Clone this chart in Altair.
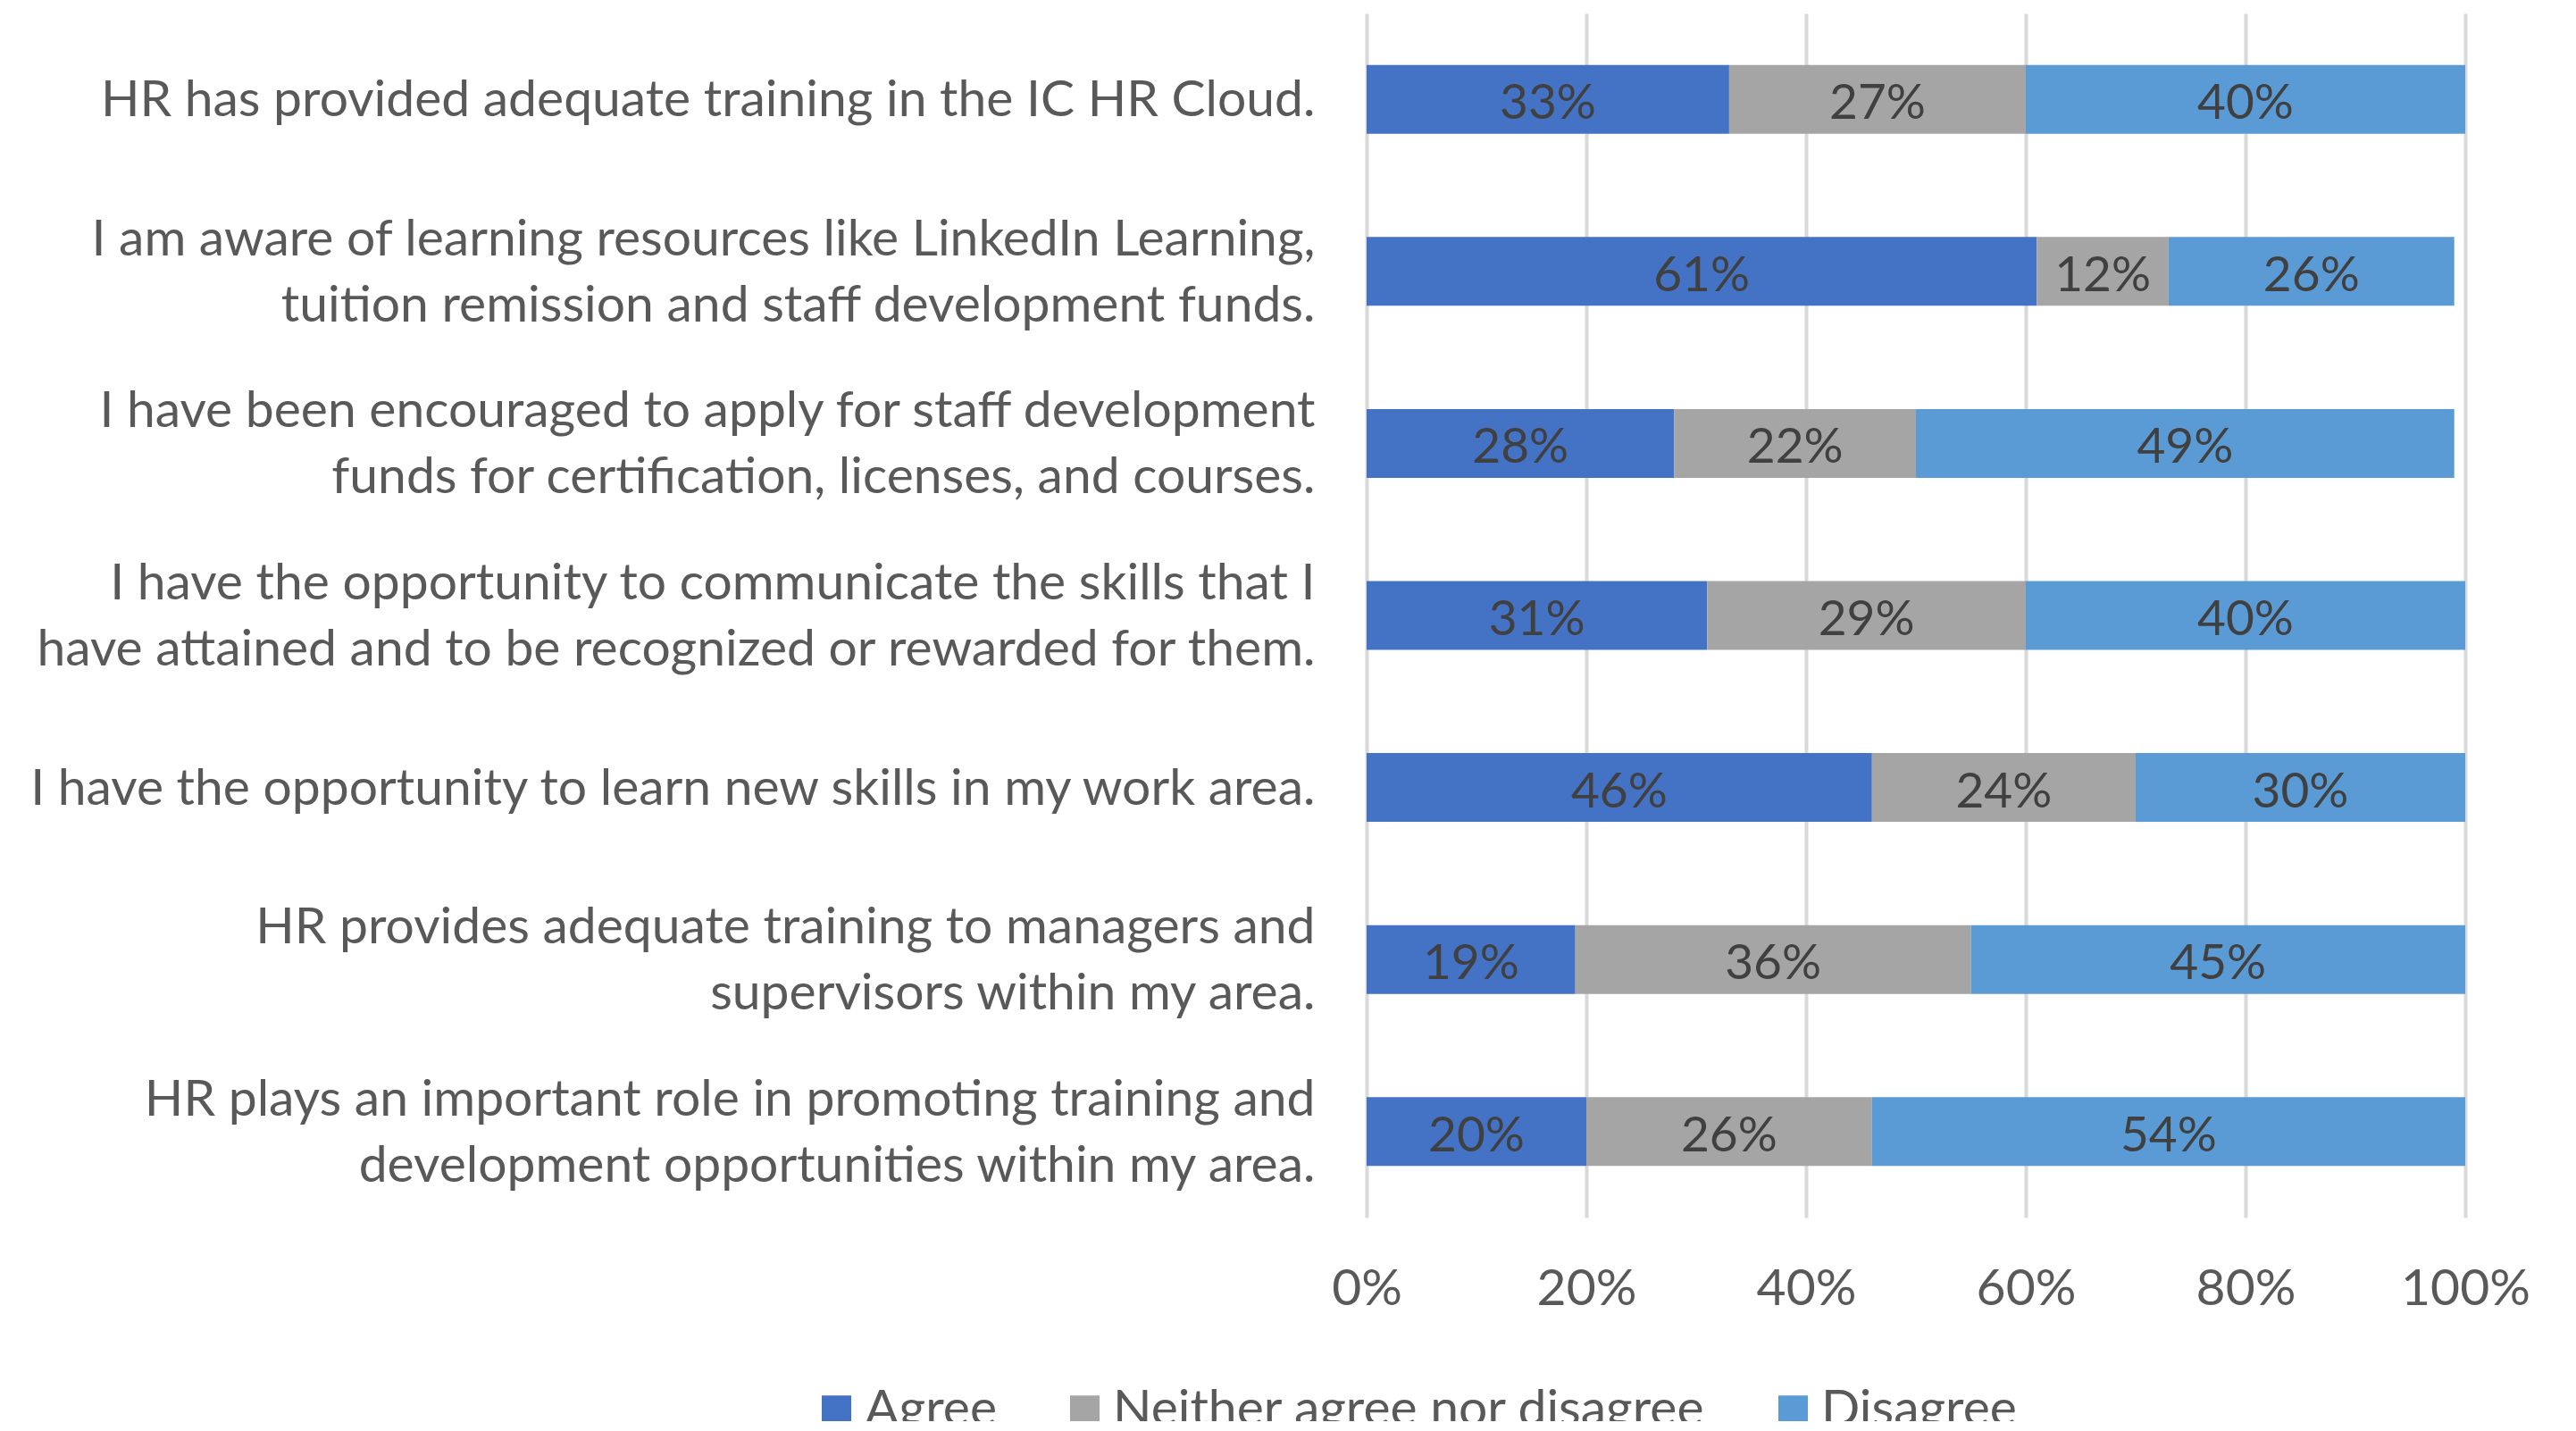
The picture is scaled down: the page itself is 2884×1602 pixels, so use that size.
import altair as alt
import pandas as pd

questions = [
    "HR has provided adequate training in the IC HR Cloud.",
    "I am aware of learning resources like LinkedIn Learning,|tuition remission and staff development funds.",
    "I have been encouraged to apply for staff development|funds for certification, licenses, and courses.",
    "I have the opportunity to communicate the skills that I|have attained and to be recognized or rewarded for them.",
    "I have the opportunity to learn new skills in my work area.",
    "HR provides adequate training to managers and|supervisors within my area.",
    "HR plays an important role in promoting training and|development opportunities within my area.",
]
series = ["Agree", "Neither agree nor disagree", "Disagree"]
agree = [33, 61, 28, 31, 46, 19, 20]
neither = [27, 12, 22, 29, 24, 36, 26]
disagree = [40, 26, 49, 40, 30, 45, 54]
colors = ["#4472C4", "#A5A5A5", "#5B9BD5"]
x_ticks = [0, 20, 40, 60, 80, 100]

rows = []
for i, q in enumerate(questions):
    for j, (s, vals) in enumerate(zip(series, [agree, neither, disagree])):
        rows.append({"question": q, "series": s, "order": j, "value": vals[i]})
df = pd.DataFrame(rows)

FONT = "Lato"
FS = 57

base = alt.Chart(df).transform_stack(
    stack="value", groupby=["question"], sort=[alt.SortField("order")], as_=["x0", "x1"]
).transform_calculate(
    xm="(datum.x0 + datum.x1) / 2",
    lbl="datum.value + '%'",
)

y_enc = alt.Y(
    "question:N",
    sort=questions,
    scale=alt.Scale(paddingInner=0.6, paddingOuter=0.3),
    axis=alt.Axis(
        title=None,
        labelExpr="split(datum.label, '|')",
        labelFont=FONT,
        labelFontSize=FS,
        labelColor="#595959",
        labelLineHeight=74,
        labelPadding=58,
        labelLimit=2000,
        labelOffset={"condition": {"test": "indexof(datum.value, '|') >= 0", "value": -35}, "value": 2},
        ticks=False,
        domain=False,
        grid=False,
    ),
)

bars = base.mark_bar().encode(
    x=alt.X(
        "x0:Q",
        scale=alt.Scale(domain=[0, 100], nice=False),
        axis=alt.Axis(
            title=None,
            values=x_ticks,
            labelExpr="datum.value + '%'",
            labelFont=FONT,
            labelFontSize=FS,
            labelColor="#595959",
            labelPadding=52,
            labelFlush=False,
            ticks=False,
            domain=False,
            grid=True,
            gridColor="#D9D9D9",
            gridWidth=4,
        ),
    ),
    x2="x1:Q",
    y=y_enc,
    color=alt.Color(
        "series:N",
        sort=series,
        scale=alt.Scale(domain=series, range=colors),
        legend=alt.Legend(
            title=None,
            orient="none",
            direction="horizontal",
            legendX=-622,
            legendY=1535,
            symbolType="square",
            symbolSize=1089,
            symbolStrokeWidth=0,
            labelFont=FONT,
            labelFontSize=FS,
            labelColor="#595959",
            labelOffset=3,
            labelLimit=2000,
            columnPadding=69,
            padding=0,
        ),
    ),
    order=alt.Order("order:Q"),
)

texts = base.mark_text(font=FONT, fontSize=55, color="#404040", baseline="middle", dy=5).encode(
    x="xm:Q",
    y=alt.Y("question:N", sort=questions),
    text="lbl:N",
)

chart = alt.layer(bars, texts).properties(
    width=1230,
    height=1348,
    autosize=alt.AutoSizeParams(type="none"),
    padding={"left": 1522, "top": 7, "right": 90, "bottom": 228},
    background="white",
).configure_view(stroke=None)

chart.save("out.html", embed_options={"renderer": "svg", "actions": False})
